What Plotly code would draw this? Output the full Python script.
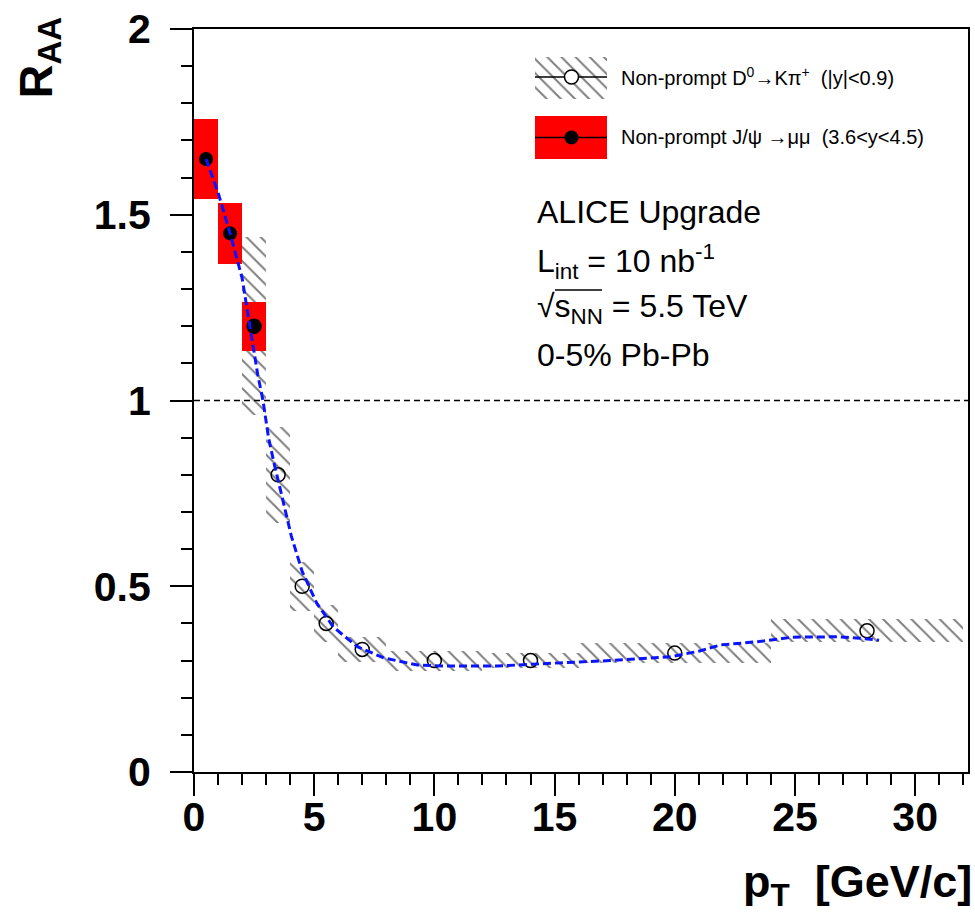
import plotly.graph_objects as go

# ---------------- data ----------------
# Non-prompt D0 -> K pi  (|y|<0.9): points and systematic boxes
d_pt = [2.5, 3.5, 4.5, 5.5, 7.0, 10.0, 14.0, 20.0, 28.0]
d_raa = [1.20, 0.80, 0.50, 0.40, 0.33, 0.30, 0.30, 0.32, 0.38]
d_syst = [0.24, 0.13, 0.066, 0.05, 0.033, 0.027, 0.02, 0.026, 0.031]
d_bin_lo = [2, 3, 4, 5, 6, 8, 12, 16, 24]
d_bin_hi = [3, 4, 5, 6, 8, 12, 16, 24, 32]

# Non-prompt J/psi -> mu mu (3.6<y<4.5)
j_pt = [0.5, 1.5, 2.5]
j_raa = [1.65, 1.45, 1.20]
j_syst = [0.107, 0.082, 0.066]
j_bin_lo = [0, 1, 2]
j_bin_hi = [1, 2, 3]

# model curve (blue dashed)
curve_pt = [0.5, 1.0, 1.5, 2.0, 2.2, 2.4, 2.65, 2.87, 3.1, 3.3, 3.7, 4.05, 4.5,
            5.1, 5.8, 6.8, 7.9, 9.3, 10.4, 12.6, 14.0, 16.3, 17.3, 19.8, 21.0,
            21.9, 23.5, 24.9, 26.8, 27.7, 28.5]
curve_raa = [1.65, 1.56, 1.45, 1.33, 1.25, 1.17, 1.07, 1.00, 0.90, 0.84, 0.73,
             0.635, 0.54, 0.455, 0.39, 0.337, 0.307, 0.288, 0.285, 0.285, 0.29,
             0.296, 0.30, 0.31, 0.325, 0.342, 0.351, 0.363, 0.364, 0.36, 0.355]

reference_level = 1.0

y_tickvals = [0, 0.5, 1, 1.5, 2]
y_ticktext = ["0", "0.5", "1", "1.5", "2"]
x_tickvals = [0, 5, 10, 15, 20, 25, 30]
x_ticktext = ["0", "5", "10", "15", "20", "25", "30"]

# ---------------- layout geometry ----------------
W, H = 975, 914
L, R, T, B = 194, 968, 29, 772    # plot frame in screen pixels


def px(xp):
    return (xp - L) / (R - L)


def py(yp):
    return (B - yp) / (B - T)


FONT = "Liberation Sans"
HATCH = dict(shape="\\", size=10, solidity=0.2, fgcolor="black",
             bgcolor="rgba(0,0,0,0)", fillmode="overlay")

fig = go.Figure()

# hatched systematic boxes for D0
fig.add_trace(go.Bar(
    x=[(a + b) / 2 for a, b in zip(d_bin_lo, d_bin_hi)],
    width=[b - a for a, b in zip(d_bin_lo, d_bin_hi)],
    base=[v - e for v, e in zip(d_raa, d_syst)],
    y=[2 * e for e in d_syst],
    marker=dict(color="rgba(0,0,0,0)", line=dict(width=0), pattern=HATCH),
    hoverinfo="skip",
))

# red systematic boxes for J/psi
fig.add_trace(go.Bar(
    x=[(a + b) / 2 for a, b in zip(j_bin_lo, j_bin_hi)],
    width=[b - a for a, b in zip(j_bin_lo, j_bin_hi)],
    base=[v - e for v, e in zip(j_raa, j_syst)],
    y=[2 * e for e in j_syst],
    marker=dict(color="rgb(255,0,0)", line=dict(width=0)),
    hoverinfo="skip",
))

# D0 points
fig.add_trace(go.Scatter(
    x=d_pt, y=d_raa, mode="markers",
    marker=dict(symbol="circle-open", size=14, color="black", line=dict(width=1.5, color="black")),
))

# J/psi points
fig.add_trace(go.Scatter(
    x=j_pt, y=j_raa, mode="markers",
    marker=dict(symbol="circle", size=14, color="black"),
))

# model curve
fig.add_trace(go.Scatter(
    x=curve_pt, y=curve_raa, mode="lines",
    line=dict(color="rgb(10,20,255)", width=3, dash="8px,4px"),
))

# reference line at 1
fig.add_shape(type="line", xref="paper", x0=0, x1=1, yref="y",
              y0=reference_level, y1=reference_level,
              line=dict(color="black", width=1.5, dash="6px,4px"))

# ---------------- legend (drawn on an overlay axis in paper-like units) ----------------
lx0, lx1, lxc = px(535), px(607), px(571.5)
b1_top, b1_bot, b1_mid = py(57), py(99), py(77)
b2_top, b2_bot, b2_mid = py(116), py(159), py(137.5)

fig.add_trace(go.Scatter(
    x=[lx0, lx1, lx1, lx0, lx0], y=[b1_bot, b1_bot, b1_top, b1_top, b1_bot],
    xaxis="x2", yaxis="y2", mode="lines", fill="toself",
    fillcolor="rgba(0,0,0,0)", fillpattern=HATCH, line=dict(width=0),
))
fig.add_trace(go.Scatter(
    x=[lx0, lx1], y=[b1_mid, b1_mid], xaxis="x2", yaxis="y2", mode="lines",
    line=dict(color="black", width=1.5),
))
fig.add_trace(go.Scatter(
    x=[lxc], y=[b1_mid], xaxis="x2", yaxis="y2", mode="markers",
    marker=dict(symbol="circle", size=14, color="white", line=dict(width=1.5, color="black")),
))
fig.add_trace(go.Scatter(
    x=[lx0, lx1, lx1, lx0, lx0], y=[b2_bot, b2_bot, b2_top, b2_top, b2_bot],
    xaxis="x2", yaxis="y2", mode="lines", fill="toself",
    fillcolor="rgb(255,0,0)", line=dict(width=0),
))
fig.add_trace(go.Scatter(
    x=[lx0, lx1], y=[b2_mid, b2_mid], xaxis="x2", yaxis="y2", mode="lines",
    line=dict(color="black", width=1.5),
))
fig.add_trace(go.Scatter(
    x=[lxc], y=[b2_mid], xaxis="x2", yaxis="y2", mode="markers",
    marker=dict(symbol="circle", size=14, color="black"),
))

annotations = []
leg_font = dict(family=FONT, size=20, color="black")
annotations.append(dict(
    x=px(619), y=b1_mid, xref="paper", yref="paper", xanchor="left", yanchor="middle",
    text="Non-prompt D<sup>0</sup>→Kπ<sup>+</sup>  (|y|<0.9)", showarrow=False, font=leg_font))
annotations.append(dict(
    x=px(619), y=b2_mid, xref="paper", yref="paper", xanchor="left", yanchor="middle",
    text="Non-prompt J/ψ →μμ  (3.6<y<4.5)", showarrow=False, font=leg_font))

txt_font = dict(family=FONT, size=32, color="black")
for text, yc in [("ALICE Upgrade", 212),
                 ("L<sub>int</sub> = 10 nb<sup>-1</sup>", 261),
                 ("√s<sub>NN</sub> = 5.5 TeV", 308),
                 ("0-5% Pb-Pb", 355)]:
    annotations.append(dict(x=px(535), y=py(yc), xref="paper", yref="paper",
                            xanchor="left", yanchor="middle", text=text,
                            showarrow=False, font=txt_font))

# overline of the square root
fig.add_shape(type="line", xref="paper", yref="paper",
              x0=px(555), x1=px(602), y0=py(290), y1=py(290),
              line=dict(color="black", width=1.5))

# axis titles
annotations.append(dict(
    x=px(974), y=py(884), xref="paper", yref="paper", xanchor="right", yanchor="middle",
    text="<b>p<sub>T</sub>  [GeV/c]</b>", showarrow=False,
    font=dict(family=FONT, size=45, color="black")))
annotations.append(dict(
    x=px(38), y=py(16), xref="paper", yref="paper", xanchor="center", yanchor="top",
    text="<b>R<sub>AA</sub></b>", textangle=-90, showarrow=False,
    font=dict(family=FONT, size=47, color="black")))

tickfont = dict(family=FONT, size=41, color="black", weight="bold")

fig.update_layout(
    width=W, height=H,
    margin=dict(l=L, r=W - R, t=T, b=H - B, pad=0),
    paper_bgcolor="white", plot_bgcolor="white",
    showlegend=False, barmode="overlay", bargap=0,
    annotations=annotations,
    xaxis=dict(
        range=[0, 32.2], showgrid=False, zeroline=False, automargin=False,
        showline=True, linecolor="black", linewidth=2, mirror=True,
        ticks="outside", ticklen=22, tickwidth=2, tickcolor="black",
        tickvals=x_tickvals, ticktext=x_ticktext, tickfont=tickfont,
        ticklabelstandoff=-14, ticklabeloverflow="allow",
        minor=dict(ticks="outside", ticklen=11, tickwidth=2, tickcolor="black",
                   dtick=1, tick0=0, showgrid=False),
    ),
    yaxis=dict(
        range=[0, 2], showgrid=False, zeroline=False, automargin=False,
        showline=True, linecolor="black", linewidth=2, mirror=True,
        ticks="outside", ticklen=22, tickwidth=2, tickcolor="black",
        tickvals=y_tickvals, ticktext=y_ticktext, tickfont=tickfont,
        ticklabelstandoff=11, ticklabeloverflow="allow",
        minor=dict(ticks="outside", ticklen=11, tickwidth=2, tickcolor="black",
                   dtick=0.1, tick0=0, showgrid=False),
    ),
    xaxis2=dict(overlaying="x", range=[0, 1], visible=False, fixedrange=True),
    yaxis2=dict(overlaying="y", range=[0, 1], visible=False, fixedrange=True),
)

# remove the default page margin so the figure fills the window exactly
fig.write_html("out.html", config={"displayModeBar": False},
               post_script="document.body.style.margin='0';")
